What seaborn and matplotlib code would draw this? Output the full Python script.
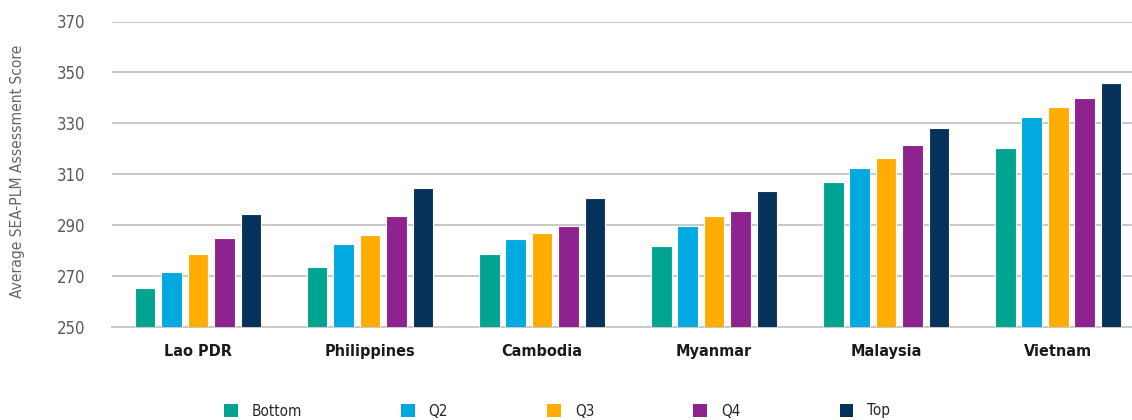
import matplotlib
matplotlib.use("Agg")
import matplotlib.pyplot as plt
import seaborn as sns
import pandas as pd

# Average SEA-PLM assessment score by socio-economic quintile
countries = ["Lao PDR", "Philippines", "Cambodia", "Myanmar", "Malaysia", "Vietnam"]
quintiles = ["Bottom", "Q2", "Q3", "Q4", "Top"]
bottom = [265.5, 273.5, 278.5, 282.0, 307.0, 320.5]
q2 = [271.5, 282.5, 284.5, 289.5, 312.5, 332.5]
q3 = [278.5, 286.0, 287.0, 293.5, 316.5, 336.5]
q4 = [285.0, 293.5, 289.5, 295.5, 321.5, 340.0]
top = [294.5, 304.5, 300.5, 303.5, 328.0, 346.0]
y_ticks = [250, 270, 290, 310, 330, 350, 370]
y_label = "Average SEA-PLM Assessment Score"

palette = ["#00A591", "#00AAE1", "#FFAD00", "#8E228E", "#04325A"]

series = [bottom, q2, q3, q4, top]
df = pd.DataFrame(
    [(c, q, v) for q, vals in zip(quintiles, series) for c, v in zip(countries, vals)],
    columns=["country", "quintile", "score"],
)

sns.set_theme(style="white")
plt.rcParams["font.family"] = ["DejaVu Sans"]
plt.rcParams["font.stretch"] = "condensed"

fig = plt.figure(figsize=(11.32, 4.2), dpi=100)
ax = fig.add_axes([112 / 1132, 1 - 327 / 420, 1 - 112 / 1132, (327 - 21.5) / 420])

sns.barplot(
    data=df, x="country", y="score", hue="quintile",
    order=countries, hue_order=quintiles, palette=palette,
    width=0.77, gap=0.21, edgecolor="white", linewidth=0.8,
    saturation=1, ax=ax, legend=True, zorder=3,
)

ax.set_ylim(250, 370)
ax.set_xlim(-0.5, 5.43)
ax.set_yticks(y_ticks)
ax.yaxis.grid(True, color="#C8C8C8", linewidth=1.4, zorder=0)
ax.set_axisbelow(True)
for side in ["top", "right", "left"]:
    ax.spines[side].set_visible(False)
ax.spines["bottom"].set_color("#C8C8C8")
ax.spines["bottom"].set_linewidth(1.4)

ax.tick_params(axis="y", length=0, pad=19, labelsize=12, labelcolor="#595959")
ax.tick_params(axis="x", length=0, pad=12, labelsize=11.6, labelcolor="#1A1A1A")
for lbl in ax.get_xticklabels():
    lbl.set_fontweight("bold")

ax.set_xlabel("")
ax.set_ylabel(y_label, fontsize=11.2, color="#666666", va="center")
ax.yaxis.set_label_coords((17.5 - 112) / 1020, 0.51)

handles, labels = ax.get_legend_handles_labels()
ax.get_legend().remove()
for h in handles:
    h.set_edgecolor("none")
fig.legend(
    handles, labels, loc="center", bbox_to_anchor=(0.492, 1 - 411 / 420),
    ncol=5, frameon=False, fontsize=11, handlelength=0.9, handleheight=0.9,
    handletextpad=0.9, columnspacing=6.5, labelcolor="#262626",
)

fig.savefig("out.png", dpi=100)
